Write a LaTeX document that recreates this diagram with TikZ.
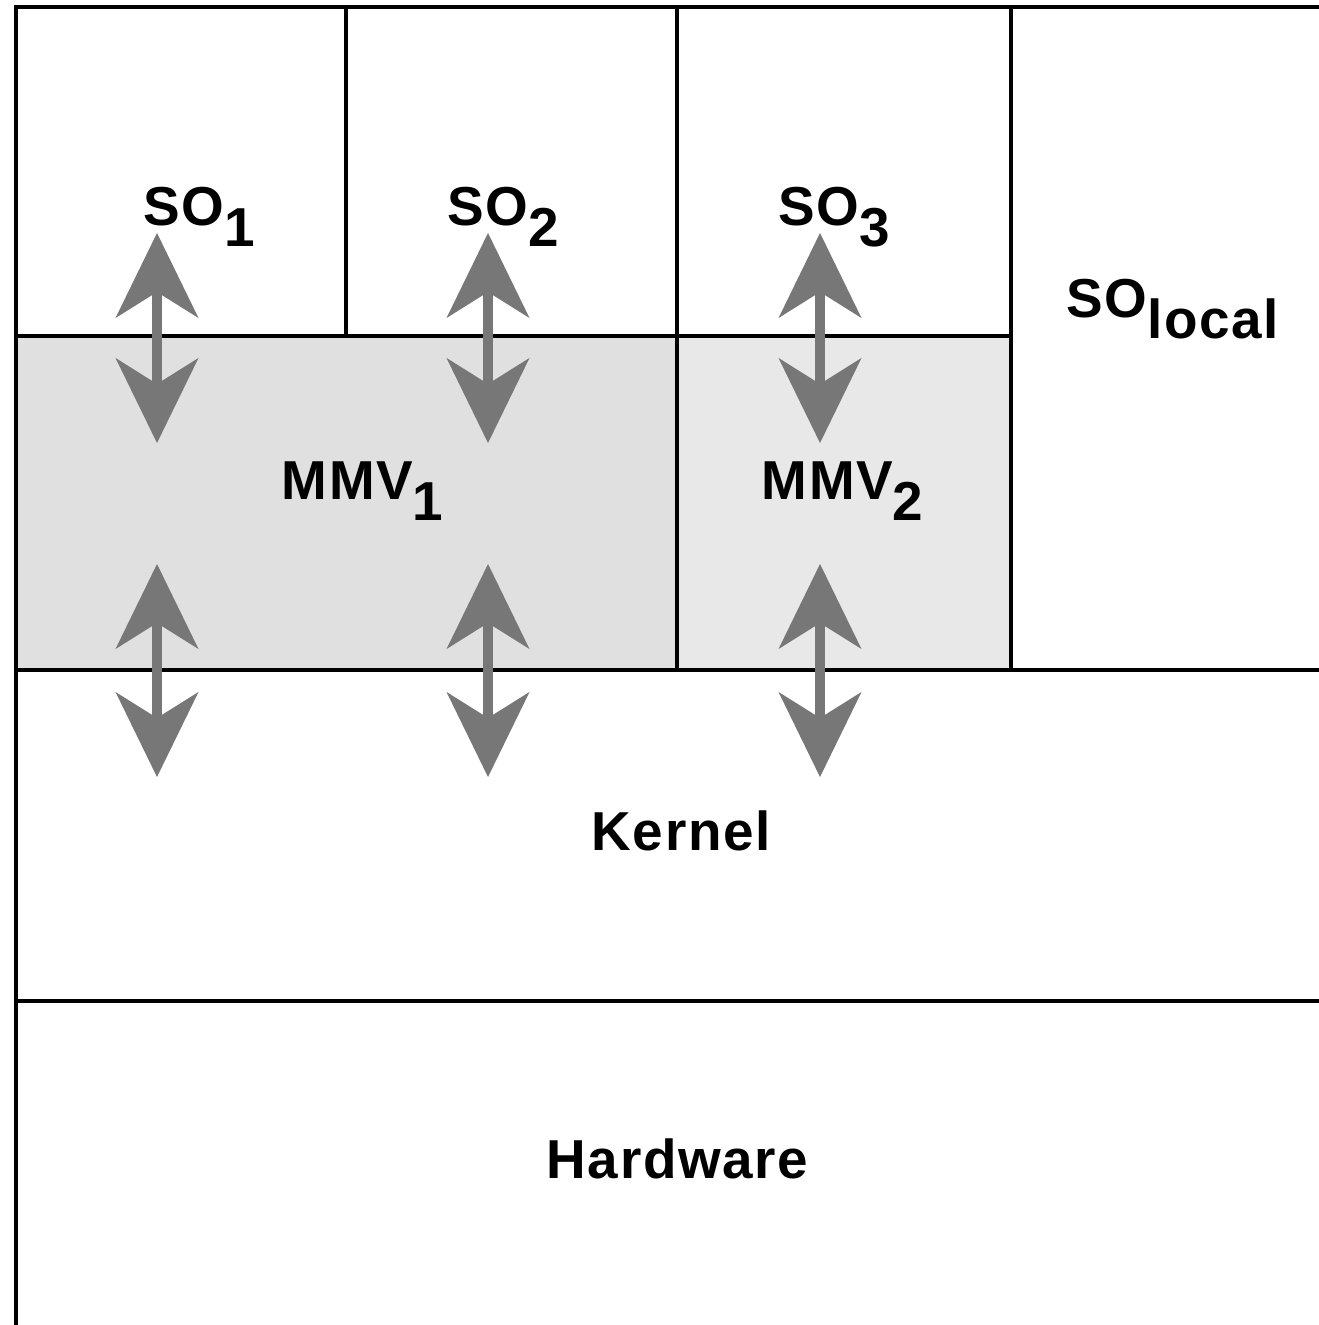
\documentclass[tikz,border=0pt]{standalone}
\usepackage{fontspec}
\setmainfont{Liberation Sans}[LetterSpace=3]
\usetikzlibrary{arrows.meta}
\definecolor{mmvgray}{HTML}{E0E0E0}
\definecolor{mmvlight}{HTML}{E8E8E8}
\definecolor{arrowgray}{HTML}{777777}
\newcommand{\lowsub}[1]{\raisebox{-0.2cm}{#1}}

\begin{document}
\begin{tikzpicture}[
    x=0.01cm, y=-0.01cm,
    font=\fontsize{15.6}{18}\selectfont\bfseries,
    cell/.style={draw=black, line width=0.04cm, anchor=north west, inner sep=0pt, outer sep=0pt},
    mmv/.style={cell, fill=mmvgray, minimum height=3.34cm},
    celltext/.style={anchor=base west, inner sep=0pt},
    link/.style={{Stealth[length=0.85cm, width=0.83cm, inset=0.26cm, line width=0pt]}-{Stealth[length=0.85cm, width=0.83cm, inset=0.26cm, line width=0pt]}, line width=0.1cm, draw=arrowgray, fill=arrowgray}
]
\useasboundingbox (0,0) rectangle (1319,1325);

% layers
\node[mmv, minimum width=6.61cm] (mmv1) at (16,336) {};
\node[mmv, fill=mmvlight, minimum width=3.34cm] (mmv2) at (677,336) {};
\node[cell, minimum width=3.30cm, minimum height=3.29cm] (so1) at (16,7) {};
\node[cell, minimum width=3.31cm, minimum height=3.29cm] (so2) at (346,7) {};
\node[cell, minimum width=3.34cm, minimum height=3.29cm] (so3) at (677,7) {};
\node[cell, minimum width=3.40cm, minimum height=6.63cm] (solocal) at (1011,7) {};
\node[cell, minimum width=13.40cm, minimum height=3.31cm] (kernel) at (16,670) {};
\node[cell, minimum width=13.40cm, minimum height=3.60cm] (hardware) at (16,1001) {};

% texts
\node[celltext] (so1 text) at (143,226) {SO\lowsub{1}};
\node[celltext] (so2 text) at (447,226) {SO\lowsub{2}};
\node[celltext] (so3 text) at (778,226) {SO\lowsub{3}};
\node[celltext] (solocal text) at (1066,318) {SO\lowsub{local}};
\node[celltext] (mmv1 text) at (281,500) {MMV\lowsub{1}};
\node[celltext] (mmv2 text) at (761,500) {MMV\lowsub{2}};
\node[celltext] (kernel text) at (591,850) {Kernel};
\node[celltext] (hardware text) at (546,1178) {Hardware};

% calls between layers
\foreach \x/\n in {157/1, 488/2, 820/3} {
    \coordinate (up\n) at (\x,233);
    \coordinate (mid\n) at (\x,443);
    \coordinate (low\n) at (\x,564);
    \coordinate (down\n) at (\x,777);
    \draw[link] (up\n) -- (mid\n);
    \draw[link] (low\n) -- (down\n);
}
\end{tikzpicture}
\end{document}
